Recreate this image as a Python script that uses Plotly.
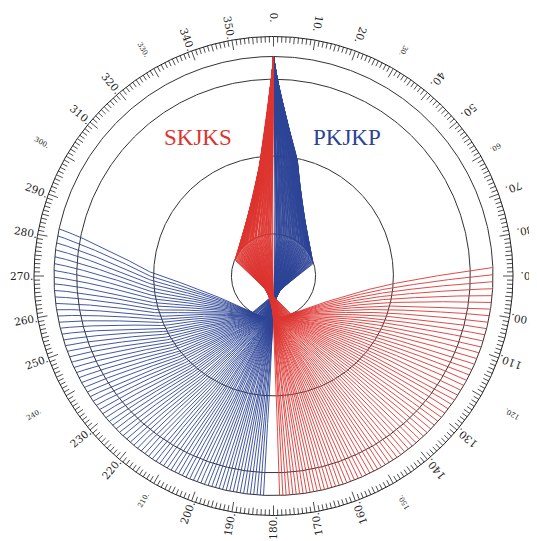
import numpy as np
import plotly.graph_objects as go

# ---------------- data ----------------
# PREM-like velocity model (radius km, Vp km/s, Vs km/s); repeated radii are discontinuities
MODEL_RADIUS_KM = [0, 600, 1221.5, 1221.5, 2000, 2800, 3480, 3480, 3630, 4500, 5600, 5701,
                   5701, 5771, 5971, 5971, 6151, 6151, 6346.6, 6346.6, 6356, 6356, 6371]
MODEL_VP = [11.2622, 11.2058, 11.0283, 10.3556, 9.8350, 9.0502, 8.0648, 13.7166, 13.6804,
            12.6654, 11.0654, 10.7512, 10.2668, 10.1576, 9.1338, 8.9052, 8.5589, 7.9898,
            8.1106, 6.8, 6.8, 5.8, 5.8]
MODEL_VS = [3.6678, 3.6284, 3.5043, 0, 0, 0, 0, 7.2646, 7.2661, 6.8727, 6.2403, 5.9450,
            5.5702, 5.5158, 4.9324, 4.7699, 4.6439, 4.4189, 4.4910, 3.9, 3.9, 3.2, 3.2]
R_EARTH = 6371.0
R_ICB = 1221.5
R_CMB = 3480.0
DRAWN_CIRCLES_KM = [6371.0, 5711.0, 3480.0, 1221.5]

PHASES = ["PKJKP", "SKJKS"]
PHASE_MANTLE_WAVE = {"PKJKP": "P", "SKJKS": "S"}
PHASE_DIRECTION = {"PKJKP": 1, "SKJKS": -1}          # 1 = clockwise from top
PHASE_DIST_RANGE = {"PKJKP": [182.6, 283.0], "SKJKS": [181.6, 273.0]}   # degrees
PHASE_DIST_STEP = {"PKJKP": [0.85, 1.9], "SKJKS": [0.85, 1.9]}         # ray spacing at both ends
PHASE_COLOR = {"PKJKP": "rgb(44,68,150)", "SKJKS": "rgb(222,52,48)"}
PHASE_LABEL_POS = {"PKJKP": (0.333, 0.633), "SKJKS": (-0.345, 0.633)}

DIAL_LABELS = list(range(0, 360, 10))
DIAL_SMALL_LABELS = [30, 60, 120, 150, 210, 240, 300, 330]

# ---------------- layout geometry (pixels; page body has an 8px margin) ----------------
PAGE_OFFSET = 8
W, H = 537 - PAGE_OFFSET, 541 - PAGE_OFFSET
CX, CY, RPX = 273.5 - PAGE_OFFSET, 276.0 - PAGE_OFFSET, 219.5
RING = 239.5 / RPX
SMALL_LABEL_RADIUS_PX = {30: 260, 60: 257, 120: 276, 150: 261, 210: 259, 240: 277, 300: 267, 330: 261}

# ---------------- ray tracing through constant-velocity thin shells ----------------
shells = []
DR = 20.0
for i in range(len(MODEL_RADIUS_KM) - 1):
    r0, r1 = MODEL_RADIUS_KM[i], MODEL_RADIUS_KM[i + 1]
    if r1 <= r0:
        continue
    n = int(np.ceil((r1 - r0) / DR))
    edges = np.linspace(r0, r1, n + 1)
    for a, b in zip(edges[:-1], edges[1:]):
        m = 0.5 * (a + b)
        f = (m - r0) / (r1 - r0)
        vp = MODEL_VP[i] + f * (MODEL_VP[i + 1] - MODEL_VP[i])
        vs = MODEL_VS[i] + f * (MODEL_VS[i + 1] - MODEL_VS[i])
        region = "IC" if m < R_ICB else ("OC" if m < R_CMB else "M")
        shells.append((b, a, vp, vs, region))
shells.sort(key=lambda s: -s[0])


def shell_velocity(s, wave):
    top, bot, vp, vs, region = s
    if region == "IC":
        return vs
    if region == "OC":
        return vp
    return vp if wave == "P" else vs


def trace(p, wave, want_path=True):
    rs, ds = [R_EARTH], [0.0]
    d = 0.0
    total = None
    for s in shells:
        top, bot = s[0], s[1]
        rt = p * shell_velocity(s, wave)
        if rt < bot:
            d += np.arccos(rt / top) - np.arccos(rt / bot)
            if want_path:
                rs.append(bot)
                ds.append(d)
        else:
            half = np.arccos(min(rt / top, 1.0))
            rs.append(rt)
            ds.append(d + half)
            total = 2 * (d + half)
            break
    if not want_path:
        return None, None, total
    r_all = rs + rs[-2::-1]
    d_all = ds + [total - x for x in ds[-2::-1]]
    return np.array(r_all), np.array(d_all), total


def p_for_distance(target_deg, wave):
    lo, hi = 0.0, R_ICB / 10.3556 * 0.99999
    for _ in range(40):
        mid = 0.5 * (lo + hi)
        _, _, tot = trace(mid, wave, want_path=False)
        if np.degrees(tot) < target_deg:
            lo = mid
        else:
            hi = mid
    return 0.5 * (lo + hi)


def ray_distances(ph):
    d0, d1 = PHASE_DIST_RANGE[ph]
    s0, s1 = PHASE_DIST_STEP[ph]
    out = [d0]
    while True:
        d = out[-1]
        nxt = d + s0 + (s1 - s0) * (d - d0) / (d1 - d0)
        if nxt > d1 + 0.3:
            break
        out.append(min(nxt, d1))
    return out


def to_xy(r_km, ang_rad):
    return r_km / R_EARTH * np.sin(ang_rad), r_km / R_EARTH * np.cos(ang_rad)


fig = go.Figure()

# Earth circles
th = np.linspace(0, 2 * np.pi, 721)
for rk in DRAWN_CIRCLES_KM:
    x, y = to_xy(rk, th)
    fig.add_trace(go.Scatter(x=x, y=y, mode="lines", line=dict(color="#333333", width=1),
                             hoverinfo="skip", showlegend=False))

# rays
for ph in PHASES:
    wave = PHASE_MANTLE_WAVE[ph]
    xs, ys = [], []
    for dist in ray_distances(ph):
        p = p_for_distance(dist, wave)
        r, d, _ = trace(p, wave)
        x, y = to_xy(r, PHASE_DIRECTION[ph] * d)
        xs.extend(np.round(x, 4).tolist() + [None])
        ys.extend(np.round(y, 4).tolist() + [None])
    fig.add_trace(go.Scatter(x=xs, y=ys, mode="lines", line=dict(color=PHASE_COLOR[ph], width=0.9),
                             hoverinfo="skip", showlegend=False))

# dial ring
x, y = RING * np.sin(th), RING * np.cos(th)
fig.add_trace(go.Scatter(x=x, y=y, mode="lines", line=dict(color="#222222", width=1),
                         hoverinfo="skip", showlegend=False))
tx, ty = [], []
for a in range(360):
    ln = (10 if a % 10 == 0 else (7 if a % 5 == 0 else 6)) / RPX
    ar = np.radians(a)
    tx += [RING * np.sin(ar), (RING - ln) * np.sin(ar), None]
    ty += [RING * np.cos(ar), (RING - ln) * np.cos(ar), None]
fig.add_trace(go.Scatter(x=tx, y=ty, mode="lines", line=dict(color="#222222", width=0.8),
                         hoverinfo="skip", showlegend=False))

# dial labels (radial text reading inward)
for a in DIAL_LABELS:
    small = a in DIAL_SMALL_LABELS
    txt = f"{a}."
    fs = 7 if small else 10.5
    if small:
        rc = SMALL_LABEL_RADIUS_PX[a] / RPX
    else:
        wpx = (len(txt) - 1) * 0.64 * fs + 0.32 * fs
        rc = (264 - wpx / 2) / RPX
    ar = np.radians(a)
    fig.add_annotation(x=rc * np.sin(ar), y=rc * np.cos(ar), text=txt, showarrow=False,
                       textangle=a + 90, xanchor="center", yanchor="middle",
                       font=dict(family="DejaVu Serif", size=fs, color="#222222"))

for ph in PHASES:
    lx, ly = PHASE_LABEL_POS[ph]
    fig.add_annotation(x=lx, y=ly, text=ph, showarrow=False,
                       font=dict(family="Liberation Serif", size=23, color=PHASE_COLOR[ph]))

fig.update_layout(
    width=W, height=H, margin=dict(l=0, r=0, t=0, b=0),
    paper_bgcolor="white", plot_bgcolor="white", showlegend=False,
    xaxis=dict(range=[-CX / RPX, (W - CX) / RPX], visible=False, fixedrange=True),
    yaxis=dict(range=[-(H - CY) / RPX, CY / RPX], visible=False, fixedrange=True),
)
fig.write_html("out.html")
